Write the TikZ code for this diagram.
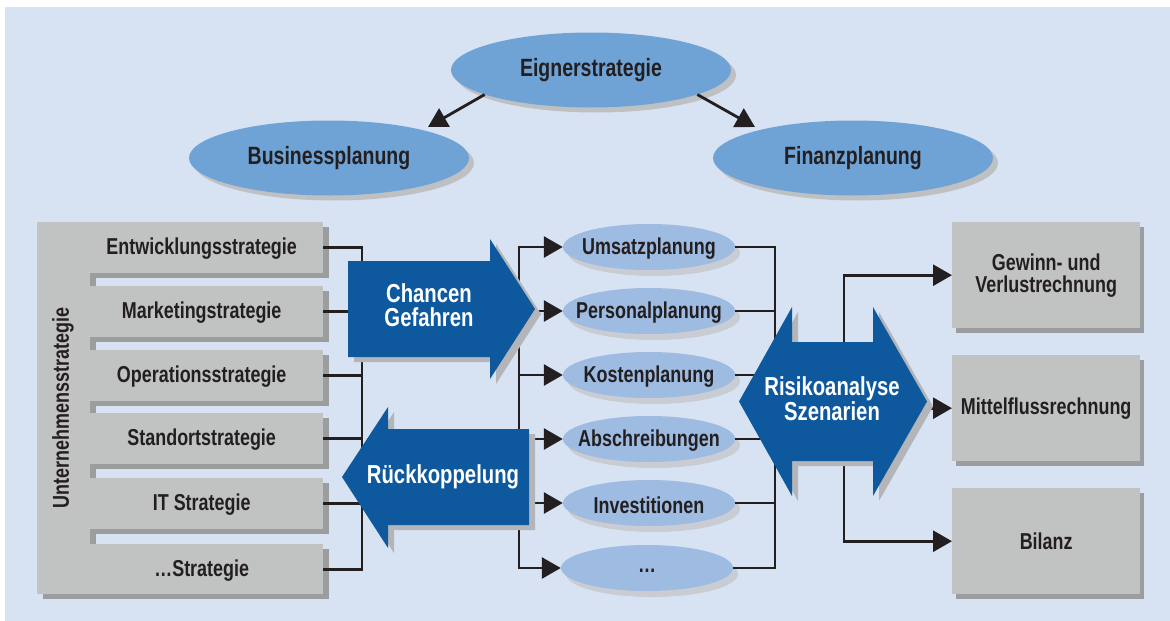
\documentclass[tikz,border=0pt]{standalone}
\usepackage{fontspec}
\setmainfont{Liberation Sans}[FakeStretch=0.78]
\usetikzlibrary{arrows.meta,shapes.geometric,shadows,calc}
\definecolor{bg}{HTML}{D7E3F3}
\definecolor{ink}{HTML}{231F20}
\definecolor{ellA}{HTML}{6FA3D6}
\definecolor{ellB}{HTML}{9EBBE2}
\definecolor{shA}{HTML}{BEC0C2}
\definecolor{shB}{HTML}{C9CDD3}
\definecolor{boxc}{HTML}{C1C2C2}
\definecolor{shC}{HTML}{9B9D9E}
\definecolor{blueA}{HTML}{0E599E}
\definecolor{shD}{HTML}{B3B5B8}
\begin{document}
\begin{tikzpicture}[x=1pt,y=-1pt,
  conn/.style={line width=2.8pt, draw=ink},
  arr/.style={conn, -{Triangle[length=19pt,width=21pt]}},
  lbl/.style={font=\fontsize{23}{22}\selectfont\bfseries, text=ink},
  wlbl/.style={font=\fontsize{26}{24}\selectfont\bfseries, text=white, align=center},
  topell/.style={ellipse, fill=ellA, minimum width=280pt, minimum height=75pt, inner sep=0pt,
    drop shadow={shadow xshift=5pt,shadow yshift=-5pt,fill=shA,opacity=1},
    font=\fontsize{25}{25}\selectfont\bfseries, text=ink},
  midell/.style={ellipse, fill=ellB, minimum width=172pt, minimum height=46pt, inner sep=0pt,
    drop shadow={shadow xshift=5pt,shadow yshift=-6pt,fill=shB,opacity=1}},
  gbox/.style={rectangle, fill=boxc, inner sep=0pt, anchor=north west,
    drop shadow={shadow xshift=6pt,shadow yshift=-5pt,fill=shC,opacity=1}},
  rbox/.style={rectangle, fill=boxc, inner sep=0pt, anchor=north west, lbl, align=center,
    minimum width=188pt, minimum height=106pt,
    drop shadow={shadow xshift=4pt,shadow yshift=-5pt,fill=shC,opacity=1}},
  strat/.style={gbox, minimum width=233pt, minimum height=51pt},
  bluearrow/.style={fill=blueA, drop shadow={shadow xshift=6pt,shadow yshift=-5pt,fill=shD,opacity=1}},
]
\useasboundingbox (0,0) rectangle (1170,621);
\fill[white] (0,0) rectangle (1170,621);
\fill[bg] (5,7) rectangle (1170,621);

% top level planning
\node[topell] (eig) at (591,70) {Eignerstrategie};
\node[topell] (bus) at (329,158) {Businessplanung};
\node[topell] (fin) at (853,158) {Finanzplanung};
\draw[arr] (eig.193) -- ($(bus.center)+(99,-31)$);
\draw[arr] (eig.347) -- ($(fin.center)+(-98,-31)$);

% corporate strategy panel
\node[gbox, minimum width=53pt, minimum height=372pt] (unt) at (37,222) {};
\node[lbl, rotate=90] at (63,408) {Unternehmensstrategie};
\node[strat, label={[lbl,xshift=-5pt,yshift=-1pt]center:Entwicklungsstrategie}] (s1) at (90,222) {};
\node[strat, label={[lbl,xshift=-5pt,yshift=-1pt]center:Marketingstrategie}] (s2) at (90,286) {};
\node[strat, label={[lbl,xshift=-5pt,yshift=-1pt]center:Operationsstrategie}] (s3) at (90,350) {};
\node[strat, label={[lbl,xshift=-5pt,yshift=-1pt]center:Standortstrategie}] (s4) at (90,413) {};
\node[strat, label={[lbl,xshift=-5pt,yshift=-1pt]center:IT Strategie}] (s5) at (90,478) {};
\node[strat, minimum height=50pt, label={[lbl,xshift=-5pt,yshift=-1pt]center:…Strategie}] (s6) at (90,544) {};

% planning ellipses
\node[midell, label={[lbl,yshift=-2pt]center:Umsatzplanung}] (u1) at (649,247) {};
\node[midell, label={[lbl,yshift=-2pt]center:Personalplanung}] (u2) at (649,311) {};
\node[midell, label={[lbl,yshift=-2pt]center:Kostenplanung}] (u3) at (649,375) {};
\node[midell, label={[lbl,yshift=-2pt]center:Abschreibungen}] (u4) at (649,439) {};
\node[midell, label={[lbl,yshift=-2pt]center:Investitionen}] (u5) at (649,503) {};
\node[midell, label={[lbl,yshift=-3pt]center:…}] (u6) at (647,568) {};

% result boxes
\node[rbox] (gew) at (952,222) {Gewinn- und\\Verlustrechnung};
\node[rbox] (mit) at (952,355) {Mittelflussrechnung};
\node[rbox] (bil) at (952,488) {Bilanz};

% bus lines
\coordinate (lb) at (362,0);
\coordinate (mb) at (519,0);
\coordinate (rb) at (775,0);
\coordinate (rtop) at (844,345);
\coordinate (rbot) at (844,458);
\coordinate (rtip) at (915,0);

\draw[conn] (s1.east) -- (s1.east -| lb) -- (s6.east -| lb) -- (s6.east);
\foreach \n in {s2,s3,s4,s5} \draw[conn] (\n.east) -- (\n.east -| lb);

\draw[conn, line cap=rect] (u1.west -| mb) -- (u6.west -| mb);
\foreach \n in {u1,u2,u3,u4,u5,u6} \draw[arr] (\n.west -| mb) -- (\n.west);

\draw[conn] (u1.east) -- (u1.east -| rb) -- (u6.east -| rb) -- (u6.east);
\foreach \n in {u2,u3,u4,u5} \draw[conn] (\n.east) -- (\n.east -| rb);

\draw[arr] (rtop) |- (gew.west);
\draw[arr] (rbot) |- (bil.west);
\draw[arr] (mit.west -| rtip) -- (mit.west);

% block arrows
\fill[bluearrow] (348,261) -- (490,261) -- (490,239) -- (535,309) -- (490,379)
  -- (490,357) -- (348,357) -- cycle;
\fill[bluearrow] (529,429) -- (388,429) -- (388,407) -- (342,477) -- (388,548)
  -- (388,525) -- (529,525) -- cycle;
\fill[bluearrow] (739,401.5) -- (792,307) -- (792,342) -- (873,342) -- (873,307)
  -- (927,401.5) -- (873,496) -- (873,461) -- (792,461) -- (792,496) -- cycle;

\node[wlbl] (chance) at (429,305) {Chancen\\Gefahren};
\node[wlbl] (rueck) at (443,477) {Rückkoppelung};
\node[wlbl] (risk) at (832,399) {Risikoanalyse\\Szenarien};
\end{tikzpicture}
\end{document}
